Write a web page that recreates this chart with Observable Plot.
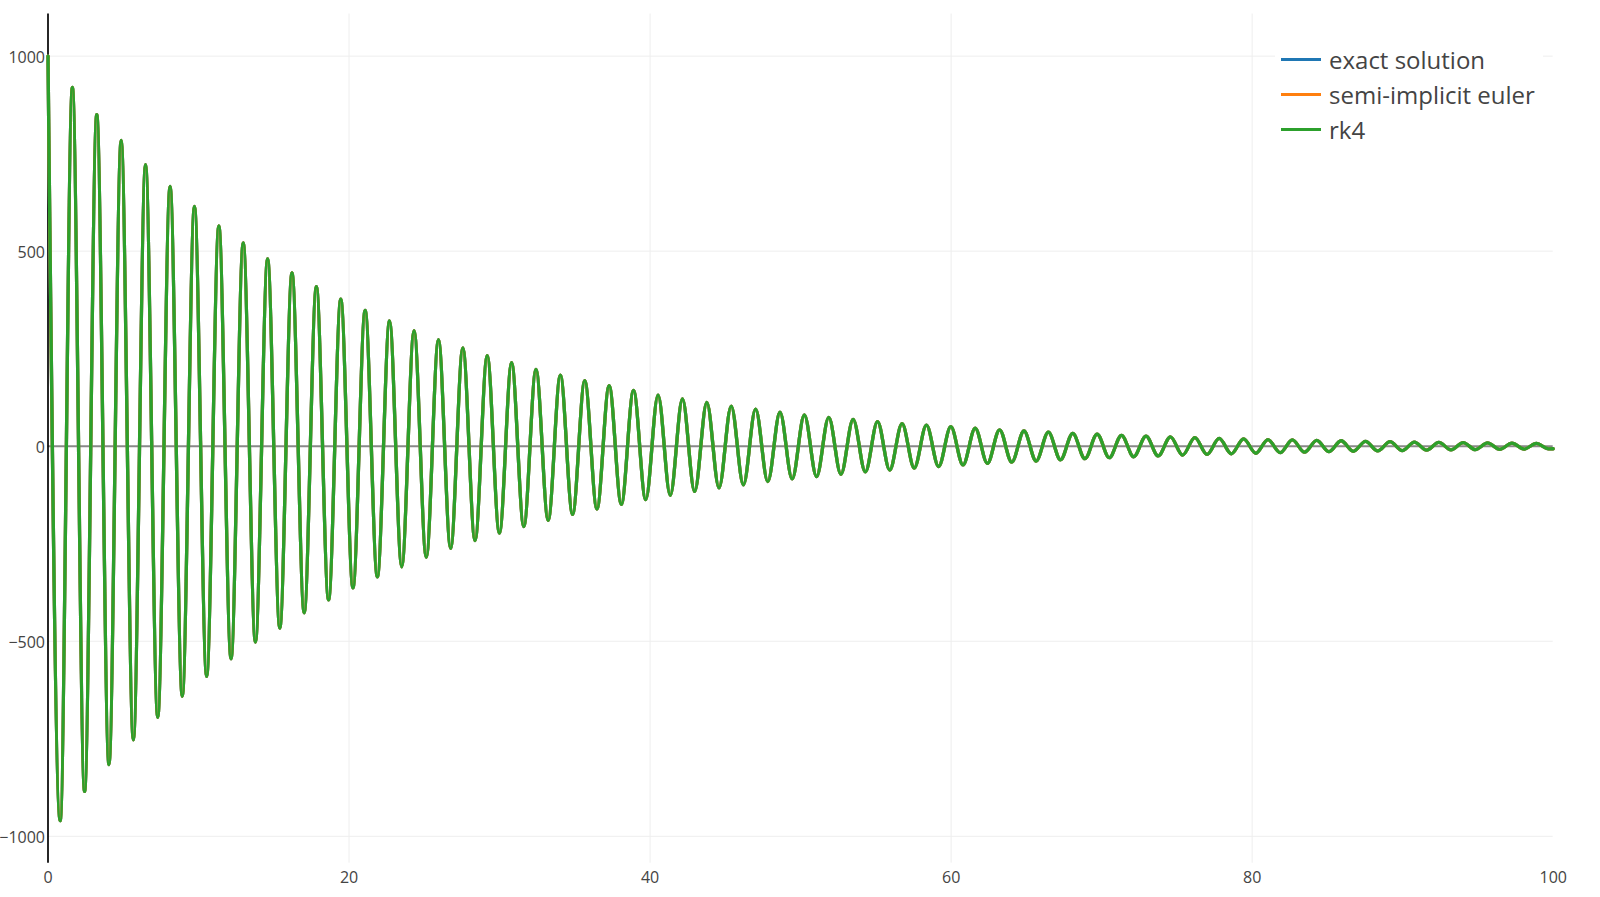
<!DOCTYPE html>
<html>
<head>
<meta charset="utf-8">
<script src="https://cdn.jsdelivr.net/npm/d3@7"></script>
<script src="https://cdn.jsdelivr.net/npm/@observablehq/plot@0.6"></script>
<style>
  html, body { margin: 0; padding: 0; background: #fff; }
  #wrap { position: relative; width: 1600px; height: 897px; font-family: "Open Sans", sans-serif; color: #444; }
  #wrap svg { position: absolute; left: 0; top: 0; }
  .legend-bg { position: absolute; background: #fff; }
  .legend-swatch { position: absolute; width: 40px; height: 3px; }
  .legend-text { position: absolute; font-size: 24px; line-height: 24px; white-space: nowrap; color: #444; }
</style>
</head>
<body>
<div id="wrap"></div>
<script>
// ---- data (extrema of the damped oscillation) ----
const peakT = [0, 1.62, 3.24, 4.86, 6.48, 8.11, 9.73, 11.35, 12.97, 14.59, 16.21, 17.83, 19.45, 21.07, 22.69, 24.32, 25.94, 27.56, 29.18, 30.8, 32.42, 34.04, 35.66, 37.28, 38.9, 40.53, 42.15, 43.77, 45.39, 47.01, 48.63, 50.25, 51.87, 53.49, 55.11, 56.74, 58.36, 59.98, 61.6, 63.22, 64.84, 66.46, 68.08, 69.7, 71.32, 72.95, 74.57, 76.19, 77.81, 79.43, 81.05, 82.67, 84.29, 85.91, 87.53, 89.16, 90.78, 92.4, 94.02, 95.64, 97.26, 98.88];
const peakV = [1000, 920, 850, 784, 722, 666, 615, 565, 521, 480, 444, 409, 377, 348, 321, 296, 273, 252, 232, 214, 197, 182, 168, 155, 143, 131, 121, 112, 103, 95, 87, 80, 74, 69, 63, 58, 54, 50, 46, 42, 39, 36, 33, 31, 28, 26, 24, 22, 20, 19, 17, 16, 15, 14, 12.5, 11.6, 10.7, 9.8, 9.1, 8.4, 7.7, 7.1];
const troughT = [0.81, 2.43, 4.05, 5.67, 7.29, 8.92, 10.54, 12.16, 13.78, 15.4, 17.02, 18.64, 20.26, 21.88, 23.5, 25.13, 26.75, 28.37, 29.99, 31.61, 33.23, 34.85, 36.47, 38.09, 39.71, 41.34, 42.96, 44.58, 46.2, 47.82, 49.44, 51.06, 52.68, 54.3, 55.92, 57.55, 59.17, 60.79, 62.41, 64.03, 65.65, 67.27, 68.89, 70.51, 72.13, 73.76, 75.38, 77.0, 78.62, 80.24, 81.86, 83.48, 85.1, 86.72, 88.34, 89.97, 91.59, 93.21, 94.83, 96.45, 98.07, 99.69];
const troughV = [-960, -885, -816, -753, -695, -641, -590, -545, -502, -466, -427, -394, -363, -335, -309, -285, -262, -242, -223, -206, -190, -175, -161, -149, -137, -126, -116, -107, -99, -91, -84, -78, -72, -66, -61, -56, -52, -48, -44, -41, -38, -35, -32, -29.5, -27, -25, -23, -21, -19.5, -18, -16.6, -15.3, -14.1, -13, -12, -11.1, -10.2, -9.4, -8.7, -8, -7.4, -6.8];
const endT = [100];
const endV = [-6.5];

const seriesNames = ["exact solution", "semi-implicit euler", "rk4"];
const seriesColors = ["#1f77b4", "#ff7f0e", "#2ca02c"];
const xTicks = [0, 20, 40, 60, 80, 100];
const xGridTicks = [20, 40, 60, 80];
const yTicks = [-1000, -500, 0, 500, 1000];
const yGridTicks = [-1000, -500, 500, 1000];

// ---- build table ----
const extrema = [];
peakT.forEach((t, i) => extrema.push({t, v: peakV[i]}));
troughT.forEach((t, i) => extrema.push({t, v: troughV[i]}));
endT.forEach((t, i) => extrema.push({t, v: endV[i]}));
extrema.sort((a, b) => a.t - b.t);
const rows = seriesNames.flatMap(s => extrema.map(d => ({t: d.t, v: d.v, series: s})));

const fmt = d => (d < 0 ? "\u2212" + Math.abs(d) : String(d));

const chart = Plot.plot({
  width: 1600,
  height: 897,
  marginLeft: 47.5,
  marginRight: 47.3,
  marginTop: 13.5,
  marginBottom: 34.3,
  style: {fontFamily: "'Open Sans', sans-serif", fontSize: "16px", color: "#444", background: "#fff"},
  x: {domain: [0, 100]},
  y: {domain: [-1069, 1108]},
  color: {domain: seriesNames, range: seriesColors},
  marks: [
    Plot.gridX(xGridTicks, {stroke: "#eeeeee", strokeOpacity: 1, strokeWidth: 1}),
    Plot.gridY(yGridTicks, {stroke: "#eeeeee", strokeOpacity: 1, strokeWidth: 1}),
    Plot.ruleY([0], {stroke: "#888888", strokeWidth: 2}),
    Plot.ruleX([0], {stroke: "#000000", strokeWidth: 1.7}),
    Plot.line(rows, {x: "t", y: "v", z: "series", stroke: "series", strokeWidth: 3.3, curve: "monotone-x", strokeLinejoin: "round"}),
    Plot.axisX(xTicks, {tickSize: 0, tickPadding: 8, tickFormat: fmt, label: null, fill: "#444"}),
    Plot.axisY(yTicks, {tickSize: 0, tickPadding: 3, dy: 2, tickFormat: fmt, label: null, fill: "#444"})
  ]
});

const wrap = document.getElementById("wrap");
wrap.appendChild(chart);

// ---- legend ----
const bg = document.createElement("div");
bg.className = "legend-bg";
Object.assign(bg.style, {left: "1275px", top: "40px", width: "268px", height: "108px"});
wrap.appendChild(bg);
seriesNames.forEach((name, i) => {
  const cy = 59.3 + 35.3 * i;
  const sw = document.createElement("div");
  sw.className = "legend-swatch";
  Object.assign(sw.style, {left: "1281px", top: (cy - 1.5) + "px", background: seriesColors[i]});
  wrap.appendChild(sw);
  const tx = document.createElement("div");
  tx.className = "legend-text";
  tx.textContent = name;
  Object.assign(tx.style, {left: "1329px", top: (47.7 + 35.3 * i) + "px"});
  wrap.appendChild(tx);
});
</script>
</body>
</html>
